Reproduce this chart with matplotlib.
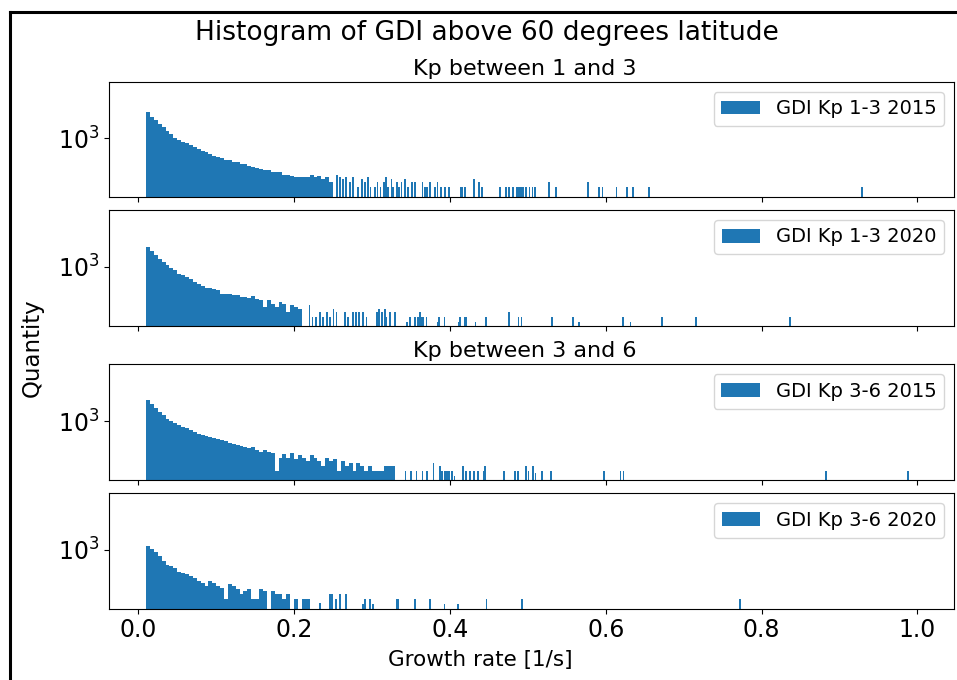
import numpy as np
import matplotlib
matplotlib.use('Agg')
import matplotlib.pyplot as plt
from matplotlib.lines import Line2D
from matplotlib.ticker import NullLocator

# histogram heights
# dense part: bins of 0.005 starting at 0.01
bin_start = 0.01
bin_step = 0.005

p1_dense = [39300, 19500, 12300, 7760, 4640, 2650, 1660, 955, 760, 600, 478, 363,
            275, 214, 163, 135, 102, 85, 71, 59, 49, 45, 37, 34, 28, 25, 21, 17,
            16, 13, 11, 11, 9, 8, 8, 6, 6, 5, 4, 4, 4, 4, 6, 4, 5, 3, 4, 2]
p1_spike_x = [0.255, 0.259, 0.263, 0.267, 0.272, 0.276, 0.282, 0.287, 0.291, 0.295,
              0.298, 0.304, 0.307, 0.311, 0.315, 0.318, 0.321, 0.325, 0.327, 0.332,
              0.335, 0.338, 0.342, 0.346, 0.351, 0.355, 0.365, 0.368, 0.371, 0.374,
              0.381, 0.384, 0.389, 0.394, 0.399, 0.414, 0.416, 0.419, 0.431, 0.437,
              0.441, 0.464, 0.472, 0.476, 0.481, 0.486, 0.488, 0.490, 0.492, 0.494,
              0.498, 0.502, 0.506, 0.509, 0.527, 0.536, 0.577, 0.591, 0.596, 0.614,
              0.627, 0.635, 0.656, 0.929]
p1_spike_n = [6, 4, 3, 4, 2, 4, 1, 3, 2, 4,
              1, 1, 2, 1, 2, 4, 1, 3, 1, 2,
              1, 2, 3, 1, 2, 2, 2, 1, 1, 2,
              1, 2, 1, 1, 1, 1, 1, 1, 3, 2,
              1, 1, 1, 1, 1, 1, 1, 1, 1, 1,
              1, 1, 1, 1, 2, 1, 2, 1, 1, 1,
              1, 1, 1, 1]

p2_dense = [16300, 8900, 5100, 3170, 2000, 1260, 870, 630, 390, 315, 247, 196,
            123, 89, 67, 56, 56, 48, 42, 24, 22, 22, 19, 19, 15, 15, 14, 17,
            12, 10, 4, 10, 6, 4, 8, 6, 2, 5, 4, 3]
p2_spike_x = [0.2196, 0.2238, 0.2281, 0.2333, 0.2375, 0.2418, 0.2461, 0.2504, 0.2546,
              0.2653, 0.2696, 0.2760, 0.2795, 0.2837, 0.2889, 0.2931, 0.3060, 0.3094,
              0.3130, 0.3170, 0.3188, 0.3231, 0.3295, 0.345, 0.349, 0.355, 0.359,
              0.362, 0.364, 0.366, 0.370, 0.384, 0.386, 0.393, 0.411, 0.413, 0.419,
              0.421, 0.433, 0.446, 0.476, 0.488, 0.492, 0.531, 0.558, 0.566, 0.622,
              0.632, 0.672, 0.716, 0.837]
p2_spike_n = [5, 1, 1, 2, 1, 2, 1, 3, 2,
              2, 1, 2, 2, 2, 2, 1, 2, 3,
              2, 3, 1, 2, 2, 0.5, 1, 1, 1,
              2, 1, 1, 1, 0.5, 1, 1, 0.5, 1, 1,
              1, 0.5, 1, 2, 1, 1, 1, 1, 0.5, 1,
              0.5, 1, 1, 1]

p3_dense = [18700, 10200, 5850, 3650, 2300, 1380, 1000, 720, 550, 435, 360, 275,
            225, 170, 141, 123, 107, 89, 78, 67, 61, 48, 42, 35, 30, 26, 24, 26,
            19, 14, 17, 14, 12, 1, 6, 10, 6, 12, 5, 9, 6, 4, 9, 6, 4, 2,
            6, 4, 5, 1, 4, 2, 3, 1, 3, 2, 1, 2, 1, 1, 1, 2, 2, 2]
p3_spike_x = [0.343, 0.350, 0.357, 0.365, 0.371, 0.379, 0.387, 0.390, 0.394, 0.396,
              0.399, 0.403, 0.406, 0.417, 0.421, 0.426, 0.431, 0.436, 0.443, 0.445,
              0.469, 0.484, 0.487, 0.498, 0.501, 0.507, 0.510, 0.518, 0.530, 0.598,
              0.619, 0.623, 0.883, 0.988]
p3_spike_n = [1, 1, 1, 1, 1, 3, 2, 1, 1, 1,
              1, 1, 0.5, 2, 1, 1, 1, 1, 1, 2,
              1, 1, 1, 2, 1, 2, 0.7, 1, 1, 1,
              1, 1, 1, 1]

p4_dense = [1670, 1050, 720, 415, 207, 112, 102, 81, 45, 40, 32, 25,
            20, 13, 10, 6, 13, 10, 6, 5, 1, 8, 6, 4, 2, 3, 4, 1,
            1, 4, 3, 0, 3, 2, 2, 1, 2, 0, 1, 0, 1, 1]
p4_spike_x = [0.233, 0.246, 0.249, 0.254, 0.259, 0.267, 0.288, 0.291, 0.297, 0.301,
              0.332, 0.334, 0.355, 0.374, 0.393, 0.410, 0.447, 0.493, 0.772]
p4_spike_n = [0.6, 2, 2, 1, 2, 2, 0.5, 1, 1, 0.5,
              1, 1, 1, 1, 0.5, 0.5, 1, 1, 1]

labels = ['GDI Kp 1-3 2015', 'GDI Kp 1-3 2020', 'GDI Kp 3-6 2015', 'GDI Kp 3-6 2020']
dense_all = [p1_dense, p2_dense, p3_dense, p4_dense]
spike_x_all = [p1_spike_x, p2_spike_x, p3_spike_x, p4_spike_x]
spike_n_all = [p1_spike_n, p2_spike_n, p3_spike_n, p4_spike_n]

W, H = 957, 680
fig = plt.figure(figsize=(W / 100, H / 100), dpi=100)

# axes positions in pixels (top, bottom)
rows = [(82, 196.7), (210, 326.3), (364.3, 480.3), (493.3, 608.7)]
ax_left, ax_right = 109, 954
blue = '#1f77b4'

axes = []
for k, (top, bot) in enumerate(rows):
    ax = fig.add_axes([ax_left / W, 1 - bot / H, (ax_right - ax_left) / W, (bot - top) / H])
    dense = dense_all[k]
    left_edges = bin_start + bin_step * np.arange(len(dense))
    ax.bar(left_edges, dense, width=bin_step, align='edge', color=blue,
           linewidth=0, label=labels[k])
    ax.bar(spike_x_all[k], spike_n_all[k], width=0.0022, align='center',
           color=blue, linewidth=0)
    ax.set_yscale('log')
    ax.set_ylim(10 ** -0.576, 10 ** 6.424)
    ax.set_yticks([1000])
    ax.yaxis.set_minor_locator(NullLocator())
    ax.set_xlim(-0.0376, 1.0471)
    ax.set_xticks([0.0, 0.2, 0.4, 0.6, 0.8, 1.0])
    ax.tick_params(labelsize=17)
    if k < 3:
        ax.tick_params(labelbottom=False)
    ax.legend(loc='upper right', fontsize=14)
    axes.append(ax)

axes[0].set_title('Kp between 1 and 3', fontsize=16, pad=5, x=0.492)
axes[2].set_title('Kp between 3 and 6', fontsize=16, pad=5, x=0.492)

fig.suptitle('Histogram of GDI above 60 degrees latitude', fontsize=19,
             x=487 / W, y=1 - 33 / H, va='center')
fig.supxlabel('Growth rate [1/s]', fontsize=15.5, x=480 / W, y=1 - 660 / H, va='center')
fig.supylabel('Quantity', fontsize=16.5, x=32 / W, y=1 - 348 / H, ha='center', va='center')

# screenshot frame on the left and top
fig.add_artist(Line2D([10 / W, 10 / W], [0, 1 - 12 / H], color='black', lw=2.2,
                      transform=fig.transFigure))
fig.add_artist(Line2D([10 / W, 1], [1 - 12 / H, 1 - 12 / H], color='black', lw=2.2,
                      transform=fig.transFigure))

plt.savefig('out.png', dpi=100)
